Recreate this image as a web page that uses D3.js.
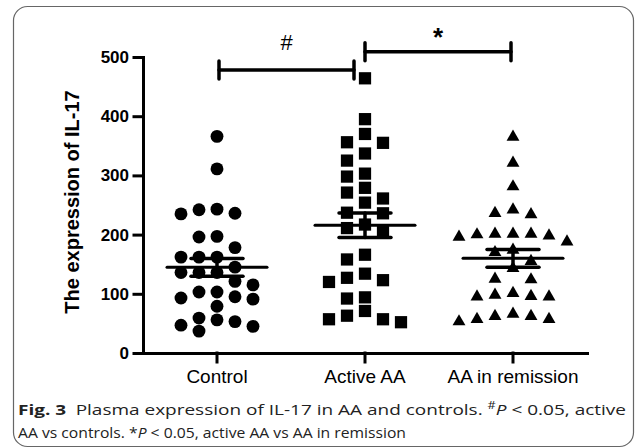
<!DOCTYPE html>
<html>
<head>
<meta charset="utf-8">
<script src="https://cdn.jsdelivr.net/npm/d3@7"></script>
<style>
  body { margin: 0; background: #fff; }
  svg { display: block; }
</style>
</head>
<body>
<script>
// Chart size
var width = 635;
var height = 448;

// Groups and the values
var groups = ["Control", "Active AA", "AA in remission"];
var controlValues = [366, 311, 243, 242, 236, 235, 197, 196, 178, 162, 162, 162, 145, 136, 136, 136,
                     121, 115, 103, 103, 95, 93, 91, 79, 59, 56, 53, 47, 45, 37];
var activeValues = [464, 395, 370, 356, 355, 337, 325, 303, 298, 279, 271, 261, 254, 237, 236, 217,
                    211, 205, 166, 158, 134, 127, 123, 120, 94, 92, 71, 63, 57, 57, 52];
var remissionValues = [365, 321, 281, 242, 236, 234, 201, 201, 201, 200, 198, 196, 188, 174, 170, 155,
                       143, 125, 124, 101, 98, 96, 95, 95, 66, 62, 62, 57, 57, 53];
var yTicks = [0, 100, 200, 300, 400, 500];

// Significance brackets: [from group, to group, value level, label]
var brackets = [
  ["Control", "Active AA", 478, "#"],
  ["Active AA", "AA in remission", 509, "*"]
];

var svg = d3.select("body")
            .append("svg")
            .attr("width", width)
            .attr("height", height);

// Rounded frame
svg.append("rect")
   .attr("x", 13.5).attr("y", 6.5)
   .attr("width", 620).attr("height", 440)
   .attr("rx", 14)
   .attr("fill", "none")
   .attr("stroke", "#666")
   .attr("stroke-width", 1.2);

// Scales
var x = d3.scaleBand()
          .domain(groups)
          .range([143, 587]);
var y = d3.scaleLinear()
          .domain([0, 500])
          .range([353, 57]);
function cx(g) { return x(g) + x.bandwidth() / 2; }

// Y axis
var yAxis = svg.append("g")
   .attr("transform", "translate(143,0)")
   .call(d3.axisLeft(y).tickValues(yTicks).tickSize(9).tickSizeOuter(0).tickPadding(5));
yAxis.selectAll("text")
     .attr("font-family", "Liberation Sans, Arial, sans-serif")
     .attr("font-weight", "bold")
     .attr("font-size", 17)
     .attr("fill", "#000");

// X axis
var xAxis = svg.append("g")
   .attr("transform", "translate(0,353)")
   .call(d3.axisBottom(x).tickSize(9).tickSizeOuter(0).tickPadding(8));
xAxis.selectAll("text")
     .attr("font-family", "Liberation Sans, Arial, sans-serif")
     .attr("font-size", 19)
     .attr("fill", "#000");

svg.selectAll(".domain, .tick line")
   .attr("stroke", "#000")
   .attr("stroke-width", 3)
   .attr("stroke-linecap", "square");

// Y axis title
svg.append("text")
   .attr("transform", "translate(79,202) rotate(-90)")
   .attr("text-anchor", "middle")
   .attr("font-family", "Liberation Sans, Arial, sans-serif")
   .attr("font-weight", "bold")
   .attr("font-size", 20)
   .text("The expression of IL-17");

// Spread points of one group sideways so they do not overlap
function spread(values, center) {
  var slots = [0, -18, 18, -36, 36, -54, 54, -72, 72];
  var placed = [];
  values.slice().sort(function(a, b) { return b - a; }).forEach(function(v) {
    var py = y(v);
    for (var i = 0; i < slots.length; i++) {
      var px = center + slots[i];
      var hit = placed.some(function(p) { return p.x === px && Math.abs(p.y - py) < 12.5; });
      if (!hit) { placed.push({x: px, y: py, v: v}); break; }
    }
  });
  return placed;
}

var series = [
  {group: "Control", values: controlValues, shape: d3.symbolCircle, size: 130},
  {group: "Active AA", values: activeValues, shape: d3.symbolSquare, size: 150},
  {group: "AA in remission", values: remissionValues, shape: d3.symbolTriangle, size: 72}
];

series.forEach(function(s) {
  var c = cx(s.group);
  var pts = spread(s.values, c);
  svg.append("g").selectAll("path")
     .data(pts)
     .enter()
     .append("path")
     .attr("transform", function(d) { return "translate(" + d.x + "," + d.y + ")"; })
     .attr("d", d3.symbol().type(s.shape).size(s.size))
     .attr("fill", "#000");

  // mean and SEM
  var m = d3.mean(s.values);
  var sem = d3.deviation(s.values) / Math.sqrt(s.values.length);
  var g = svg.append("g").attr("stroke", "#000").attr("stroke-linecap", "round");
  g.append("line")
   .attr("x1", c - 50).attr("x2", c + 50)
   .attr("y1", y(m)).attr("y2", y(m))
   .attr("stroke-width", 3);
  g.append("line")
   .attr("x1", c).attr("x2", c)
   .attr("y1", y(m + sem)).attr("y2", y(m - sem))
   .attr("stroke-width", 3.5);
  [m + sem, m - sem].forEach(function(v) {
    g.append("line")
     .attr("x1", c - 26).attr("x2", c + 26)
     .attr("y1", y(v)).attr("y2", y(v))
     .attr("stroke-width", 3.5);
  });
});

// Significance brackets
brackets.forEach(function(b, i) {
  var x1 = cx(b[0]) + (i === 0 ? 2 : 0);
  var x2 = cx(b[1]) - (i === 0 ? 11 : 2);
  var by = y(b[2]);
  var g = svg.append("g").attr("stroke", "#000").attr("stroke-width", 3.5).attr("stroke-linecap", "round");
  g.append("line").attr("x1", x1).attr("x2", x2).attr("y1", by).attr("y2", by);
  g.append("line").attr("x1", x1).attr("x2", x1).attr("y1", by - 9).attr("y2", by + 9);
  g.append("line").attr("x1", x2).attr("x2", x2).attr("y1", by - 9).attr("y2", by + 9);
  svg.append("text")
     .attr("x", (x1 + x2) / 2)
     .attr("y", b[3] === "*" ? by - 6 : by - 20)
     .attr("text-anchor", "middle")
     .attr("font-family", "Liberation Sans, Arial, sans-serif")
     .attr("font-size", b[3] === "*" ? 26 : 22)
     .attr("font-weight", b[3] === "*" ? "bold" : "normal")
     .text(b[3]);
});

// Caption
var cap = svg.append("g")
   .attr("font-family", "Open Sans, Noto Sans, sans-serif")
   .attr("font-size", 15)
   .attr("fill", "#222");
var l1 = cap.append("text").attr("x", 18).attr("y", 415)
            .attr("textLength", 608).attr("lengthAdjust", "spacingAndGlyphs");
l1.append("tspan").attr("font-weight", "bold").text("Fig. 3");
l1.append("tspan").text("\u2002Plasma expression of IL-17 in AA and controls. ");
l1.append("tspan").attr("font-size", 10).attr("dy", -6).text("#");
l1.append("tspan").attr("font-style", "italic").attr("dy", 6).text("P");
l1.append("tspan").text(" < 0.05, active");
var l2 = cap.append("text").attr("x", 18).attr("y", 438)
            .attr("textLength", 388).attr("lengthAdjust", "spacingAndGlyphs");
l2.append("tspan").text("AA vs controls. *");
l2.append("tspan").attr("font-style", "italic").text("P");
l2.append("tspan").text(" < 0.05, active AA vs AA in remission");
</script>
</body>
</html>
